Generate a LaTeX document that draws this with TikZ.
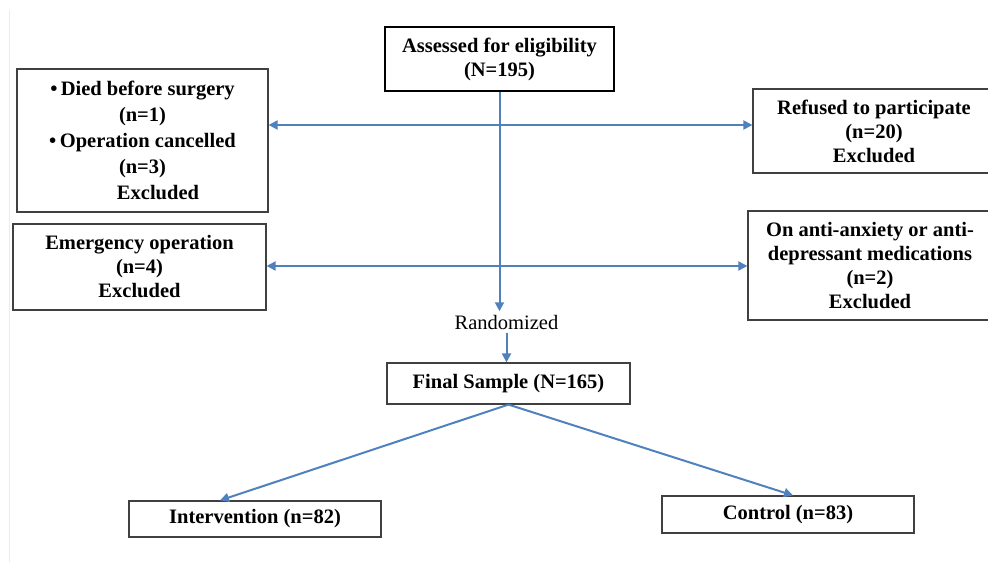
\documentclass[tikz,border=0pt]{standalone}
\usepackage{fontspec}
\setmainfont{Liberation Serif}
\usepackage{tikz}
\usetikzlibrary{arrows.meta}
\usetikzlibrary{calc}
\usepackage{xcolor}
\definecolor{flowblue}{HTML}{4F81BD}

\begin{document}
\begin{tikzpicture}[x=1pt,y=1pt,
  box/.style={draw=black!75,line width=1.2pt,align=center,inner sep=0pt,
    font=\fontsize{20.5}{24}\selectfont\bfseries},
  flow/.style={draw=flowblue,line width=2pt,-{Triangle[length=9pt,width=9pt]}}]

\useasboundingbox (0,0) rectangle (988,562);
\draw [black!8,line width=1pt] (9,0) -- (9,552);

% boxes
\node [box,draw=black,line width=1.6pt,minimum width=229,minimum height=64] (assess) at (499.5,503) {Assessed for eligibility\\(N=195)};
\node [box,minimum width=251,minimum height=143,font=\fontsize{20.5}{26}\selectfont\bfseries] (died) at (142.5,421.5) {\textbullet\,Died before surgery\\(n=1)\\\textbullet\,Operation cancelled\\(n=3)\\\hspace*{31pt}Excluded};
\node [box,minimum width=242,minimum height=84] (refused) at (874,431) {Refused to participate\\(n=20)\\Excluded};
\node [box,minimum width=253,minimum height=86] (emerg) at (139.5,295) {Emergency operation\\(n=4)\\Excluded};
\node [box,minimum width=244,minimum height=109] (meds) at (870,296.5) {On anti-anxiety or anti-\\depressant medications\\(n=2)\\Excluded};
\node [font=\fontsize{20.5}{24}\selectfont] (rand) at (506.5,240) {Randomized};
\node [box,minimum width=243,minimum height=41] (final) at (508.5,178.5) {Final Sample (N=165)};
\node [box,minimum width=252,minimum height=36] (interv) at (255,43) {Intervention (n=82)};
\node [box,minimum width=252,minimum height=37] (ctrl) at (788,47.5) {Control (n=83)};

% connectors
\coordinate (j1) at (499.5,437);
\coordinate (j2) at (499.5,296);
\draw [flow] (assess.south) -- (assess.south |- rand.north);
\draw [flow] (j1) -- (j1 -| died.east);
\draw [flow] (j1) -- (j1 -| refused.west);
\draw [flow] (j2) -- (j2 -| emerg.east);
\draw [flow] (j2) -- (j2 -| meds.west);
\draw [flow] (rand.south) -- (rand.south |- final.north);
\draw [flow] (final.south) -- ([xshift=-35pt]interv.north);
\draw [flow] (final.south) -- ([xshift=5pt]ctrl.north);
\end{tikzpicture}
\end{document}
